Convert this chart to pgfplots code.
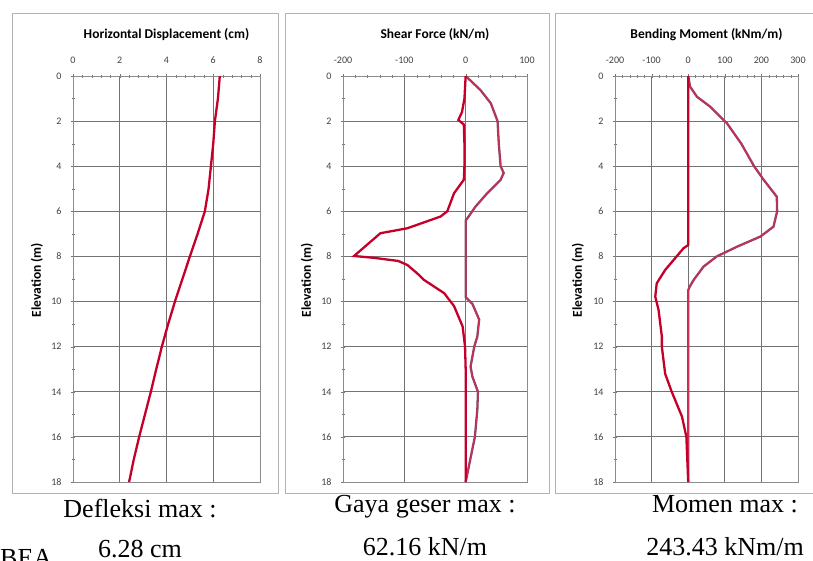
\documentclass[border=0pt]{standalone}
\usepackage{fontspec}
\setmainfont{Liberation Serif}
\newfontfamily\calfont{Carlito}
\usepackage{pgfplots}
\usepackage{pgfplotstable}
\pgfplotsset{compat=1.18}
\definecolor{dred}{RGB}{196,0,42}
\definecolor{lred}{RGB}{205,45,85}
\definecolor{lgray}{RGB}{135,70,100}

\pgfplotstableread{
x y
6.28 0
6.20 1
6.07 2
6.00 3
5.90 4
5.80 5
5.64 6
5.33 7
5.00 8
4.68 9
4.36 10
4.07 11
3.80 12
3.56 13
3.33 14
3.08 15
2.83 16
2.60 17
2.40 18
}\disp

\pgfplotstableread{
x y
0 0
-2 1
-6 1.6
-12 1.95
-3 2.15
-2 3
-2 4
-3 4.6
-19 5.2
-30 6.0
-41 6.23
-95 6.75
-139 6.97
-182 7.98
-150 8.06
-110 8.2
-95 8.38
-79 8.75
-68 9.04
-35 9.63
-19 10.2
-5 11.1
-1 12
0 13
0 18
}\shearA

\pgfplotstableread{
x y
0 0
24 0.62
41 1.21
52 2
54 3
57 4
62 4.3
57 4.6
35 5.2
16 5.79
3 6.3
0 6.4
0 9.8
11 10.1
22 10.8
19 11.55
14 12
8 12.88
11 13.33
20 14
19 14.8
15 16
0 18
}\shearB

\pgfplotstableread{
x y
0 0
5 0.47
24 0.92
60 1.36
106 2.1
145 3
180 4
206 4.6
242 5.35
243 6
233 6.68
197 7.12
133 7.57
78 8.0
42 8.45
15 9.04
4 9.34
0 9.5
0 18
}\momB

\pgfplotstableread{
x y
0 0
0 7.49
-13 7.64
-40 8.16
-63 8.6
-86 9.19
-90 9.78
-81 10.37
-72 11.55
-72 12
-63 13.2
-45 14
-17 15.1
-5 16
0 18
}\momA

\pgfplotsset{panel/.style={
  scale only axis, height=406pt,
  y dir=reverse, ymin=0, ymax=18,
  ytick={0,2,...,18}, minor y tick num=1,
  minor x tick num=4,
  xtick pos=right, xticklabel pos=right, ytick pos=left,
  grid=major, major grid style={draw=black!55, line width=0.8pt},
  axis line style={black!45, line width=0.8pt},
  tick style={black!55},
  major tick length=4pt, minor tick length=3pt, tick align=center,
  tick label style={font=\calfont\fontsize{10}{12}\selectfont, text=black!75},
  /pgf/number format/assume math mode=true,
  xticklabel shift=7pt, yticklabel shift=6pt,
}}

\begin{document}
\begin{tikzpicture}
\useasboundingbox (0,0) rectangle (813pt,-561pt);
\clip (0,0) rectangle (813pt,-561pt);
% frames
\draw[black!30, line width=0.8pt] (12pt,-13pt) rectangle (278pt,-493pt);
\draw[black!30, line width=0.8pt] (285pt,-13pt) rectangle (549pt,-493pt);
\draw[black!30, line width=0.8pt] (555pt,-13pt) rectangle (816pt,-493pt);

% panel 1
\begin{axis}[panel, at={(73pt,-76pt)}, anchor=north west, width=187pt,
  xmin=0, xmax=8, xtick={0,2,...,8}]
\addplot[dred, line width=2.3pt] table[x=x,y=y] {\disp};
\end{axis}
% panel 2
\begin{axis}[panel, at={(343pt,-76pt)}, anchor=north west, width=184pt,
  xmin=-200, xmax=100, xtick={-200,-100,0,100}]
\addplot[lgray, line width=2.3pt] table[x=x,y=y] {\shearB};
\addplot[lred, line width=1.2pt] table[x=x,y=y] {\shearB};
\addplot[dred, line width=2.3pt] table[x=x,y=y] {\shearA};
\end{axis}
% panel 3
\begin{axis}[panel, at={(615pt,-76pt)}, anchor=north west, width=183pt,
  xmin=-200, xmax=300, xtick={-200,-100,...,300}]
\addplot[lgray, line width=2.3pt] table[x=x,y=y] {\momB};
\addplot[lred, line width=1.2pt] table[x=x,y=y] {\momB};
\addplot[dred, line width=2.3pt] table[x=x,y=y] {\momA};
\end{axis}

% titles
\begin{scope}[every node/.style={font=\calfont\bfseries\fontsize{13.5}{16}\selectfont}]
\node at (166.5pt,-35pt) {Horizontal Displacement (cm)};
\node at (435pt,-35pt) {Shear Force (kN/m)};
\node at (706.5pt,-35pt) {Bending Moment (kNm/m)};
\node[rotate=90] at (37pt,-280pt) {Elevation (m)};
\node[rotate=90] at (307pt,-280pt) {Elevation (m)};
\node[rotate=90] at (578pt,-280pt) {Elevation (m)};
\end{scope}

% bottom texts
\begin{scope}[every node/.style={font=\fontsize{26}{30}\selectfont, anchor=base, inner sep=0pt}]
\node at (140pt,-517pt) {Defleksi max :};
\node at (140pt,-557pt) {6.28 cm};
\node at (425pt,-512pt) {Gaya geser max :};
\node at (425pt,-555pt) {62.16 kN/m};
\node at (725pt,-512pt) {Momen max :};
\node at (725pt,-555pt) {243.43 kNm/m};
\node[anchor=base west] at (0pt,-566pt) {BEA};
\end{scope}
\end{tikzpicture}
\end{document}
